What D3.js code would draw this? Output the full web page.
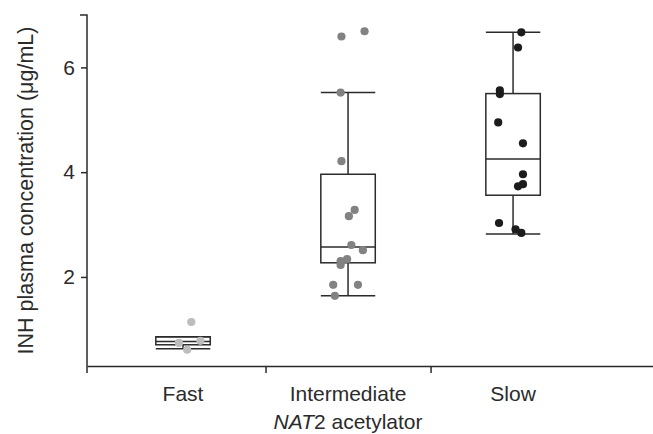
<!DOCTYPE html>
<html>
<head>
<meta charset="utf-8">
<script src="https://cdn.jsdelivr.net/npm/d3@7"></script>
<style>
  body { margin: 0; background: #fff; }
  text { font-family: "Liberation Sans", Arial, sans-serif; fill: #2b2b2b; }
</style>
</head>
<body>
<div id="chart"></div>
<script>
// categories and per-group box statistics
const categories = ["Fast", "Intermediate", "Slow"];
const whiskerLow = [0.63, 1.64, 2.82];
const q1 = [0.705, 2.27, 3.56];
const median = [0.77, 2.57, 4.25];
const q3 = [0.857, 3.96, 5.50];
const whiskerHigh = [0.857, 5.52, 6.67];

// raw points (value, jitter as fraction of category width)
const fastValues = [1.14, 0.78, 0.74, 0.61];
const fastJitter = [0.05, 0.105, -0.025, 0.025];
const interValues = [6.69, 6.59, 5.52, 4.21, 3.28, 3.16, 2.61, 2.51, 2.34, 2.30, 2.23, 1.85, 1.85, 1.64];
const interJitter = [0.10, -0.04, -0.045, -0.04, 0.04, 0.005, 0.02, 0.09, -0.006, -0.045, -0.045, -0.09, 0.06, -0.08];
const slowValues = [6.67, 6.38, 5.56, 5.49, 4.95, 4.55, 3.96, 3.77, 3.73, 3.03, 2.91, 2.84];
const slowJitter = [0.05, 0.03, -0.08, -0.08, -0.09, 0.06, 0.06, 0.06, 0.03, -0.085, 0.015, 0.05];

const yTicks = [2, 4, 6];
const pointColors = ["#bdbdbd", "#828282", "#1c1c1c"];

const W = 653, H = 434;
const svg = d3.select("#chart").append("svg").attr("width", W).attr("height", H);

// x: one unit per category (centres at 0,1,2), axis line runs to the right edge
const x = d3.scaleLinear().domain([-0.582, 2.848]).range([87, 653]);
const y = d3.scaleLinear().domain([0.3, 7]).range([366, 15]);
const boxHalf = 0.165;
const ink = "#2b2b2b";

// y axis
const yAxis = svg.append("g").attr("transform", "translate(87,0)")
  .call(d3.axisLeft(y).tickValues(yTicks).tickFormat(d3.format("d")).tickSize(6).tickSizeOuter(0).tickPadding(6));
yAxis.select(".domain").remove();
yAxis.append("path").attr("d", `M-7,${y(7)}H0V${y(0.3) + 7}`)
  .attr("fill", "none").attr("stroke", ink).attr("stroke-width", 1.5);
yAxis.selectAll(".tick line").attr("stroke", ink).attr("stroke-width", 1.5);
yAxis.selectAll(".tick text").attr("font-size", 21).style("font-family", "Liberation Sans, Arial, sans-serif").attr("fill", ink);

// x axis, ticks between categories
const xAxis = svg.append("g").attr("transform", `translate(0,${y(0.3)})`)
  .call(d3.axisBottom(x).tickValues([0.5, 1.5]).tickFormat("").tickSize(7).tickSizeOuter(0));
xAxis.select(".domain").attr("stroke", ink).attr("stroke-width", 1.5);
xAxis.selectAll(".tick line").attr("stroke", ink).attr("stroke-width", 1.5);

svg.append("g").selectAll("text").data(categories).join("text")
  .attr("x", (d, i) => x(i))
  .attr("y", 401)
  .attr("text-anchor", "middle")
  .attr("font-size", 21)
  .text(d => d);

const xt = svg.append("text").attr("x", x(1)).attr("y", 429)
  .attr("text-anchor", "middle").attr("font-size", 21);
xt.append("tspan").attr("font-style", "italic").text("NAT");
xt.append("tspan").text("2 acetylator");

svg.append("text")
  .attr("transform", `translate(33,${(y(7) + y(0.3)) / 2}) rotate(-90)`)
  .attr("text-anchor", "middle")
  .attr("font-size", 21.5)
  .text("INH plasma concentration (\u03bcg/mL)");

// boxes
const boxes = svg.append("g").attr("stroke", ink).attr("stroke-width", 1.5).attr("fill", "none");
categories.forEach((c, i) => {
  boxes.append("line").attr("x1", x(i)).attr("x2", x(i)).attr("y1", y(whiskerLow[i])).attr("y2", y(q1[i]));
  boxes.append("line").attr("x1", x(i)).attr("x2", x(i)).attr("y1", y(q3[i])).attr("y2", y(whiskerHigh[i]));
  [whiskerLow[i], whiskerHigh[i], median[i]].forEach(v => {
    boxes.append("line").attr("x1", x(i - boxHalf)).attr("x2", x(i + boxHalf)).attr("y1", y(v)).attr("y2", y(v));
  });
  boxes.append("rect").attr("x", x(i - boxHalf)).attr("width", x(i + boxHalf) - x(i - boxHalf))
    .attr("y", y(q3[i])).attr("height", y(q1[i]) - y(q3[i]));
});

// points
const groups = [[fastValues, fastJitter], [interValues, interJitter], [slowValues, slowJitter]];
groups.forEach(([vals, jit], i) => {
  svg.append("g").selectAll("circle").data(vals).join("circle")
    .attr("cx", (d, j) => x(i + jit[j]))
    .attr("cy", d => y(d))
    .attr("r", 4.1)
    .attr("fill", pointColors[i]);
});
</script>
</body>
</html>
